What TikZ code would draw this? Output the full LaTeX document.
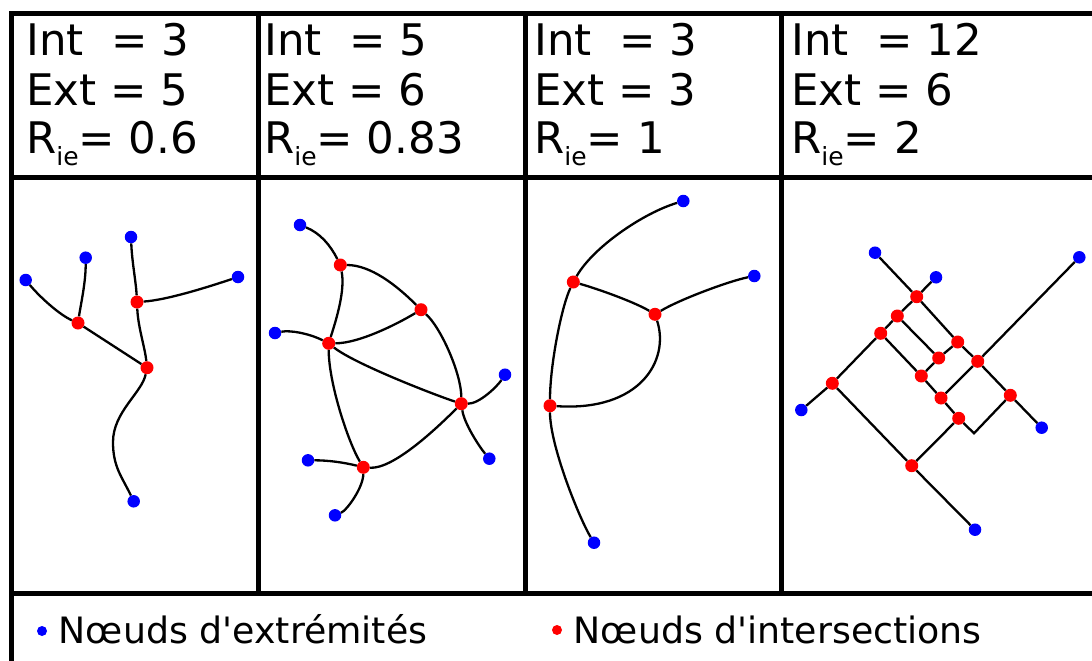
\documentclass[tikz,border=0pt]{standalone}
\usepackage{fontspec}
\setmainfont{DejaVu Sans}

\begin{document}
\begin{tikzpicture}[x=1pt, y=-1pt,
  ext/.style={circle, fill=blue, inner sep=0pt, minimum size=12.5pt},
  inter/.style={circle, fill=red, inner sep=0pt, minimum size=13pt},
  link/.style={line width=2.3pt},
  tabline/.style={line width=5pt},
  head/.style={anchor=base west, inner sep=0pt, font=\fontsize{43.5}{49}\selectfont},
  leg/.style={anchor=base west, inner sep=0pt, font=\fontsize{36.3}{42}\selectfont}
]
\useasboundingbox (0,0) rectangle (1092,661);
\fill[white] (0,0) rectangle (1092,661);

% table
\draw[tabline] (11,661) -- (11,14) -- (1092,14);
\draw[tabline] (11,177) -- (1092,177);
\draw[tabline] (11,593) -- (1092,593);
\foreach \x in {258,525,781} \draw[tabline] (\x,14) -- (\x,593);

% counts
\foreach \x/\i/\e/\r [count=\n] in {26/3/5/0.6, 264/5/6/0.83, 534/3/3/1, 791/12/6/2} {
  \node[head] (int\n) at (\x,56) {Int\ \ = \i};
  \node[head] (ext\n) at (\x,105) {Ext = \e};
  \node[head] (rie\n) at (\x,153) {R{\fontsize{25}{25}\selectfont\raisebox{-12pt}{ie}}= \r};
}

% graph 1
\node[ext] (e11) at (25.7,280) {};
\node[ext] (e12) at (85.7,257.7) {};
\node[ext] (e13) at (131,237) {};
\node[ext] (e14) at (238,277) {};
\node[ext] (e15) at (133.7,501.3) {};
\node[inter] (i11) at (78,323) {};
\node[inter] (i12) at (137,302) {};
\node[inter] (i13) at (147,367.7) {};
\coordinate (s1) at (113,442);
\draw[link] (e11) .. controls +(15,18) and +(-18,-8) .. (i11);
\draw[link] (e12) .. controls +(0,25) and +(3,-20) .. (i11);
\draw[link] (i11) -- (i13);
\draw[link] (e13) .. controls +(1,25) and +(-1,-20) .. (i12);
\draw[link] (i12) .. controls +(30,-2) and +(-30,10) .. (e14);
\draw[link] (i12) .. controls +(1,25) and +(-2,-20) .. (i13);
\draw[link] (i13) .. controls +(-5,25) and +(0,-30) .. (s1) .. controls +(0,25) and +(-12,-25) .. (e15);

% graph 2
\node[ext] (e21) at (300,225) {};
\node[ext] (e22) at (275,333) {};
\node[ext] (e23) at (505,374.7) {};
\node[ext] (e24) at (489.3,458.7) {};
\node[ext] (e25) at (308,460.3) {};
\node[ext] (e26) at (335,515.3) {};
\node[inter] (i21) at (340.3,265) {};
\node[inter] (i22) at (421,309.7) {};
\node[inter] (i23) at (328.7,343.3) {};
\node[inter] (i24) at (461.3,403.7) {};
\node[inter] (i25) at (363.3,467.3) {};
\draw[link] (e21) .. controls +(20,8) and +(-10,-20) .. (i21);
\draw[link] (i21) .. controls +(30,0) and +(-25,-25) .. (i22);
\draw[link] (i21) .. controls +(5,25) and +(8,-25) .. (i23);
\draw[link] (i23) .. controls +(30,0) and +(-25,15) .. (i22);
\draw[link] (e22) .. controls +(15,-3) and +(-20,-10) .. (i23);
\draw[link] (i23) .. controls +(25,20) and +(-30,-10) .. (i24);
\draw[link] (i22) .. controls +(20,18) and +(0,-30) .. (i24);
\draw[link] (i24) .. controls +(18,0) and +(-8,12) .. (e23);
\draw[link] (i24) .. controls +(3,20) and +(-10,-12) .. (e24);
\draw[link] (i23) .. controls +(0,40) and +(-15,-25) .. (i25);
\draw[link] (i25) .. controls +(30,2) and +(-25,25) .. (i24);
\draw[link] (e25) .. controls +(20,0) and +(-20,-5) .. (i25);
\draw[link] (i25) .. controls +(0,20) and +(12,-5) .. (e26);

% graph 3
\node[ext] (e31) at (683.3,201) {};
\node[ext] (e32) at (754.3,276) {};
\node[ext] (e33) at (594,542.7) {};
\node[inter] (i31) at (573.3,282) {};
\node[inter] (i32) at (655,314.3) {};
\node[inter] (i33) at (550,405.7) {};
\draw[link] (i31) .. controls +(20,-35) and +(-40,12) .. (e31);
\draw[link] (i31) .. controls +(25,7) and +(-20,-12) .. (i32);
\draw[link] (i32) .. controls +(25,-15) and +(-25,5) .. (e32);
\draw[link] (i32) .. controls +(15,46) and +(90,6) .. (i33);
\draw[link] (i31) .. controls +(-12,25) and +(0,-40) .. (i33);
\draw[link] (i33) .. controls +(0,40) and +(-15,-25) .. (e33);

% graph 4
\node[ext] (e41) at (875,252.7) {};
\node[ext] (e42) at (936,277.3) {};
\node[ext] (e43) at (1079.3,257.3) {};
\node[ext] (e44) at (801.3,410) {};
\node[ext] (e45) at (1041.7,427.7) {};
\node[ext] (e46) at (975,529.7) {};
\node[inter] (i41) at (916.7,296.7) {};
\node[inter] (i42) at (897.3,316) {};
\node[inter] (i43) at (880.7,333.3) {};
\node[inter] (i44) at (957.7,342) {};
\node[inter] (i45) at (938.7,358) {};
\node[inter] (i46) at (977.7,361.3) {};
\node[inter] (i47) at (921.3,376) {};
\node[inter] (i48) at (832.3,383.3) {};
\node[inter] (i49) at (1010.3,395.3) {};
\node[inter] (i410) at (941,398) {};
\node[inter] (i411) at (958.7,418.3) {};
\node[inter] (i412) at (911.7,465.7) {};
\coordinate (c4) at (974,433.3);
\draw[link] (e41) -- (i41) -- (i44) -- (i46) -- (i49) -- (e45);
\draw[link] (e42) -- (i41) -- (i42) -- (i43) -- (i48) -- (e44);
\draw[link] (i42) -- (i45);
\draw[link] (i43) -- (i47) -- (i410) -- (i411) -- (c4) -- (i49);
\draw[link] (i44) -- (i45) -- (i47);
\draw[link] (e43) -- (i46) -- (i410);
\draw[link] (i48) -- (i412) -- (e46);
\draw[link] (i412) -- (i411);

% legend
\node[ext, minimum size=10pt] (kext) at (42,631) {};
\node[leg] (text) at (58.6,643) {Nœuds d\textquotesingle extrémités};
\node[inter, minimum size=10pt] (kint) at (557,630) {};
\node[leg] (tint) at (573.6,643) {Nœuds d\textquotesingle intersections};
\end{tikzpicture}
\end{document}
